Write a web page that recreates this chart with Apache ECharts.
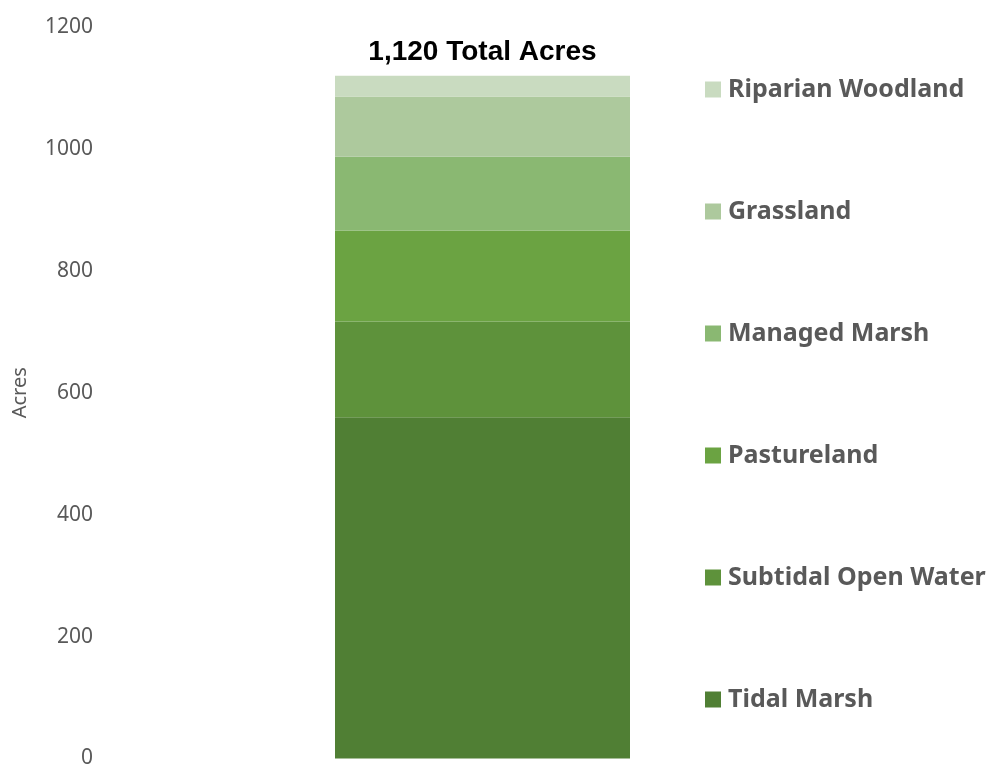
<!DOCTYPE html>
<html>
<head>
<meta charset="utf-8">
<script src="https://cdn.jsdelivr.net/npm/echarts@6/dist/echarts.min.js"></script>
<style>
  html, body { margin: 0; padding: 0; background: #fff; }
  #chart { width: 988px; height: 769px; }
</style>
</head>
<body>
<div id="chart"></div>
<script>
// stacked from bottom to top
const landTypes = ['Tidal Marsh', 'Subtidal Open Water', 'Pastureland', 'Managed Marsh', 'Grassland', 'Riparian Woodland'];
const acres = [560, 157, 149, 121, 99, 34];
const colors = ['#507f34', '#5e923b', '#6ba342', '#8ab872', '#adc99d', '#c9dbc0'];
const categories = ['Total'];

const total = acres.reduce((a, b) => a + b, 0);

const chart = echarts.init(document.getElementById('chart'));

const series = landTypes.map((name, i) => {
  const s = {
    name: name,
    type: 'bar',
    stack: 'acres',
    barWidth: 295,
    data: [acres[i]],
    itemStyle: { color: colors[i] }
  };
  // label on the top segment shows the total
  if (i === landTypes.length - 1) {
    s.label = {
      show: true,
      position: 'top',
      distance: 9,
      formatter: total.toLocaleString('en-US') + ' Total Acres',
      color: '#000',
      fontFamily: 'Liberation Sans',
      fontWeight: 'bold',
      fontSize: 28
    };
  }
  return s;
});

chart.setOption({
  animation: false,
  grid: { left: 110, right: 133, top: 27, bottom: 7 },
  legend: {
    orient: 'vertical',
    left: 705,
    top: 77,
    padding: 0,
    itemWidth: 16,
    itemHeight: 16,
    itemGap: 97,
    icon: 'rect',
    data: landTypes.slice().reverse(),
    textStyle: {
      color: '#595959',
      fontFamily: 'Noto Sans',
      fontWeight: 'bold',
      fontSize: 25,
      padding: [0, 0, 0, 2]
    }
  },
  xAxis: {
    type: 'category',
    data: categories,
    axisLine: { show: false },
    axisTick: { show: false },
    axisLabel: { show: false }
  },
  yAxis: {
    type: 'value',
    min: 0,
    max: 1200,
    interval: 200,
    name: 'Acres',
    nameLocation: 'middle',
    nameGap: 80,
    nameTextStyle: { color: '#595959', fontFamily: 'Noto Sans', fontSize: 20 },
    axisLine: { show: false },
    axisTick: { show: false },
    splitLine: { show: false },
    axisLabel: {
      color: '#595959',
      fontFamily: 'Noto Sans',
      fontSize: 21,
      margin: 17,
      padding: [4, 0, 0, 0],
      formatter: v => String(v)
    }
  },
  series: series
});
</script>
</body>
</html>
